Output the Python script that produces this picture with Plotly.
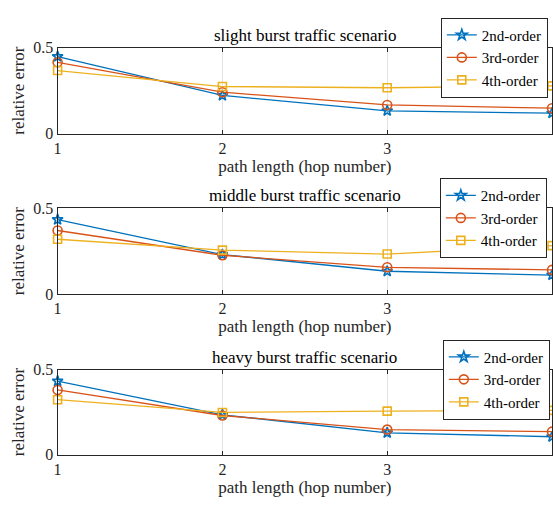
import plotly.graph_objects as go

hops = [1, 2, 3, 4]
series_names = ["2nd-order", "3rd-order", "4th-order"]
titles = ["slight burst traffic scenario", "middle burst traffic scenario", "heavy burst traffic scenario"]

slight_2nd = [0.448, 0.222, 0.133, 0.119]
slight_3rd = [0.415, 0.241, 0.167, 0.148]
slight_4th = [0.367, 0.274, 0.267, 0.278]

middle_2nd = [0.433, 0.230, 0.133, 0.111]
middle_3rd = [0.370, 0.226, 0.156, 0.141]
middle_4th = [0.319, 0.256, 0.233, 0.282]

heavy_2nd = [0.432, 0.234, 0.128, 0.105]
heavy_3rd = [0.380, 0.230, 0.147, 0.135]
heavy_4th = [0.323, 0.248, 0.256, 0.260]

panels = [
    [slight_2nd, slight_3rd, slight_4th],
    [middle_2nd, middle_3rd, middle_4th],
    [heavy_2nd, heavy_3rd, heavy_4th],
]

colors = ["#0072BD", "#D95319", "#EDB120"]
symbols = ["star-open", "circle-open", "square-open"]
msizes = [8, 9, 8]

W, H = 553, 511
FONT = "Liberation Serif"
TXT = "#262626"

# pixel geometry of each panel (top, bottom)
px_rows = [(41, 130), (207, 296), (374, 462)]
x0, x1 = 54, 552
legend_boxes = [(440, 10), (439, 176), (442, 343)]

fig = go.Figure()
for i, (vals, (top, bot)) in enumerate(zip(panels, px_rows)):
    ax = "" if i == 0 else str(i + 1)
    leg = "legend" if i == 0 else f"legend{i+1}"
    for j, v in enumerate(vals):
        fig.add_trace(go.Scatter(
            x=hops, y=v, mode="lines+markers", name=series_names[j],
            line=dict(color=colors[j], width=1.3),
            marker=dict(symbol=symbols[j], size=msizes[j], color=colors[j], line=dict(width=1.6, color=colors[j])),
            xaxis="x" + ax, yaxis="y" + ax, legend=leg, cliponaxis=False,
        ))
    dom_y = [1 - bot / H, 1 - top / H]
    fig.layout["xaxis" + ax] = dict(
        domain=[x0 / W, x1 / W], range=[1, 4], anchor="y" + ax,
        tickvals=hops, ticks="inside", ticklen=4, tickcolor=TXT,
        showgrid=True, gridcolor="#e3e3e3", gridwidth=1.2, griddash="solid",
        showline=True, linecolor=TXT, linewidth=1.2, mirror="allticks",
        zeroline=False, tickfont=dict(family=FONT, size=16, color=TXT),
        title=dict(text="path length (hop number)", font=dict(family=FONT, size=17, color=TXT), standoff=0),
    )
    fig.layout["yaxis" + ax] = dict(
        domain=dom_y, range=[0, 0.5], anchor="x" + ax,
        tickvals=[0, 0.5], ticktext=["0", "0.5"], ticks="inside", ticklen=4, tickcolor=TXT,
        showgrid=False, showline=True, linecolor=TXT, linewidth=1.2, mirror="allticks",
        zeroline=False, tickfont=dict(family=FONT, size=16, color=TXT),
        title=dict(text="relative error", font=dict(family=FONT, size=17, color=TXT), standoff=4),
    )
    fig.add_annotation(
        text=titles[i], xref="paper", yref="paper",
        x=(x0 + x1) / 2 / W, y=1 - (top - 1) / H, xanchor="center", yanchor="bottom",
        showarrow=False, font=dict(family=FONT, size=17, color="#000000"),
    )
    lx, ly = legend_boxes[i]
    fig.layout[leg] = dict(
        x=lx / W, y=1 - ly / H, xanchor="left", yanchor="top",
        bgcolor="white", bordercolor=TXT, borderwidth=1,
        font=dict(family=FONT, size=15, color="#000000"),
        tracegroupgap=0, itemsizing="trace", itemwidth=30,
    )

fig.update_layout(
    width=W, height=H, margin=dict(l=0, r=0, t=0, b=0),
    plot_bgcolor="white", paper_bgcolor="white", showlegend=True,
)
fig.write_html("out.html")
